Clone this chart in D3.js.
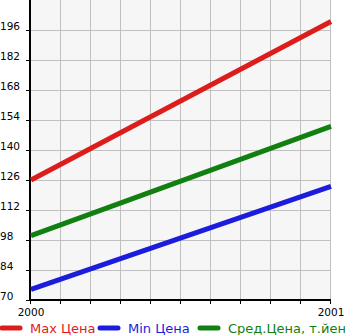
<!DOCTYPE html>
<html><head><meta charset="utf-8">
<script src="https://cdn.jsdelivr.net/npm/d3@7"></script>
<style>body{margin:0;background:#fff}svg{display:block}</style>
</head><body>
<script>
const years = [2000, 2001];
const maxPrice = [126, 200];
const minPrice = [75, 123];
const avgPrice = [100, 151];
const yTicks = [70, 84, 98, 112, 126, 140, 154, 168, 182, 196];
const seriesNames = ["Max Цена", "Min Цена", "Сред.Цена, т.йен"];
const seriesColors = ["#dd1c1c", "#1c1cdd", "#118011"];

const W = 345, H = 335;
const svg = d3.select("body").append("svg").attr("width", W).attr("height", H);
const L = 31, R = 331, T = 0, B = 300;
const x = d3.scaleLinear().domain([0, 10]).range([L, R]);
const xt = d3.scaleLinear().domain([2000, 2001]).range([L, R]);
const y = d3.scaleLinear().domain([70, 210]).range([B, T]);

svg.append("rect").attr("x", L).attr("y", T).attr("width", R - L).attr("height", B - T).attr("fill", "#f6f6f6");

const g = svg.append("g");
// grid
g.selectAll("line.h").data(yTicks).join("line")
  .attr("x1", L).attr("x2", R).attr("y1", d => y(d) + 0.5).attr("y2", d => y(d) + 0.5)
  .attr("stroke", "#c0c0c0").attr("stroke-width", 1);
g.selectAll("line.v").data(d3.range(1, 11)).join("line")
  .attr("x1", d => x(d) - 0.5).attr("x2", d => x(d) - 0.5).attr("y1", T).attr("y2", B)
  .attr("stroke", "#c0c0c0").attr("stroke-width", 1);

// ticks
g.selectAll("line.yt").data(yTicks).join("line")
  .attr("x1", L - 5).attr("x2", L).attr("y1", d => y(d) + 0.5).attr("y2", d => y(d) + 0.5)
  .attr("stroke", "#000");
g.selectAll("line.xt").data(d3.range(0, 11)).join("line")
  .attr("x1", d => x(d) - 0.5).attr("x2", d => x(d) - 0.5).attr("y1", B).attr("y2", B + 4)
  .attr("stroke", "#000");

// axes
svg.append("line").attr("x1", L - 1).attr("x2", L - 1).attr("y1", T).attr("y2", B + 1).attr("stroke", "#000").attr("stroke-width", 2);
svg.append("line").attr("x1", L - 2).attr("x2", R).attr("y1", B).attr("y2", B).attr("stroke", "#000").attr("stroke-width", 2);

// y labels
svg.selectAll("text.yl").data(yTicks).join("text")
  .attr("x", 0).attr("y", d => y(d)).attr("font-family", "DejaVu Sans").attr("font-size", 10.5)
  .attr("fill", "#000").text(d => d);
// x labels
svg.selectAll("text.xl").data(years).join("text")
  .attr("x", d => xt(d)).attr("y", 316).attr("text-anchor", "middle")
  .attr("font-family", "DejaVu Sans").attr("font-size", 10.5).attr("fill", "#000").text(d => d);

// lines
const data = [maxPrice, minPrice, avgPrice];
const line = d3.line().x((d, i) => xt(years[i])).y(d => y(d));
svg.selectAll("path.s").data(data).join("path")
  .attr("d", d => line(d)).attr("fill", "none")
  .attr("stroke", (d, i) => seriesColors[i]).attr("stroke-width", 5).attr("stroke-linecap", "butt");

// legend
const legX = [0, 98, 198];
const lg = svg.selectAll("g.lg").data(seriesNames).join("g").attr("transform", (d, i) => `translate(${legX[i]},328)`);
lg.append("line").attr("x1", 2).attr("x2", 20).attr("y1", 0).attr("y2", 0)
  .attr("stroke", (d, i) => seriesColors[i]).attr("stroke-width", 5).attr("stroke-linecap", "round");
lg.append("text").attr("x", 30).attr("y", 5).attr("font-family", "DejaVu Sans").attr("font-size", 13)
  .attr("fill", (d, i) => seriesColors[i]).text(d => d);
</script>
</body></html>
